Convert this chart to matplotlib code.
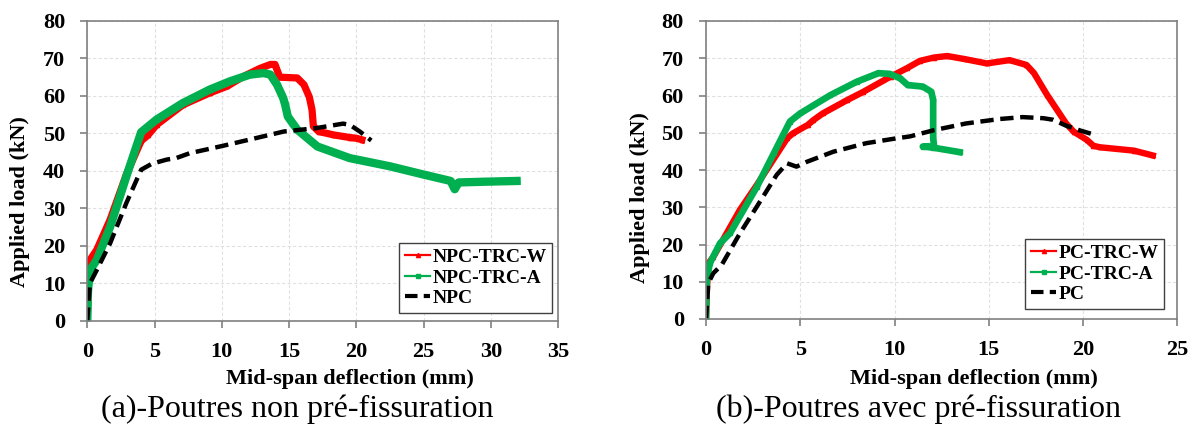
import matplotlib
matplotlib.use("Agg")
import matplotlib.pyplot as plt

# (a) beams without pre-cracking
npc_w_x = [0, 0.05, 0.2, 0.7, 1.7, 2.9, 4.0, 4.5, 5.15, 7.1, 9.1, 10.4, 11.6, 12.8, 13.6, 13.95,
           14.3, 15.6, 16.1, 16.5, 16.7, 16.8, 17.2, 18.3, 19.5, 20.0, 20.4]
npc_w_y = [0, 8, 16.2, 18.9, 27, 39, 48, 49.5, 52.3, 57.6, 60.8, 62.6, 65.2, 67.3, 68.4, 68.4,
           65.0, 64.8, 63.0, 59.7, 56.3, 51.9, 50.5, 49.6, 48.9, 48.7, 48.3]

npc_a_x = [0, 0.05, 0.2, 0.7, 1.7, 2.9, 4.0, 5.15, 7.1, 9.1, 10.6, 12.1, 13.1, 13.6, 14.1, 14.55,
           14.7, 14.9, 15.6, 17.1, 19.5, 22.5, 25.0, 27.0, 27.3, 27.6, 29.5, 31.9]
npc_a_y = [0, 8, 13.5, 16.2, 25.1, 38.5, 50.3, 53.7, 58.1, 61.7, 63.9, 65.7, 66.1, 65.7, 63.0, 59.5,
           57.7, 54.5, 51.0, 46.5, 43.4, 41.2, 39.0, 37.3, 35.1, 36.9, 37.1, 37.3]

npc_x = [0, 0.1, 0.2, 0.7, 1.7, 2.9, 4.0, 4.8, 5.9, 6.6, 7.6, 10.1, 12.6, 14.6, 17.0, 19.0, 19.5,
         20.25, 21.1]
npc_y = [0, 5, 10, 13.5, 20.7, 31.4, 40.3, 41.9, 43.0, 43.4, 44.7, 46.7, 48.8, 50.5, 51.4, 52.6,
         52.3, 50.5, 48.1]

# (b) beams with pre-cracking
pc_w_x = [0, 0.05, 0.12, 0.39, 1.8, 2.7, 4.3, 4.6, 5.4, 5.7, 6.2, 7.5, 8.35, 9.8, 10.65, 11.35,
          12.1, 12.8, 13.8, 14.9, 16.1, 17.0, 17.4, 18.1, 19.1, 19.5, 20.2, 20.55, 20.9, 22.7, 23.7]
pc_w_y = [0, 8, 14.9, 16.7, 29.3, 36.0, 48.5, 49.8, 52.1, 53.4, 55.2, 58.8, 61.0, 65.1, 67.3, 69.3,
          70.2, 70.6, 69.7, 68.6, 69.5, 68.2, 66.0, 60.1, 52.5, 50.3, 48.1, 46.5, 46.1, 45.2, 43.9]

pc_a_x = [0, 0.04, 0.2, 0.74, 1.27, 2.7, 3.6, 4.45, 5.0, 6.6, 8.0, 9.15, 9.75, 10.3, 10.7, 11.5,
          11.95, 12.05, 12.05, 12.1, 11.5, 12.05, 13.45]
pc_a_y = [0, 10.5, 14.9, 20.3, 23.0, 35.5, 44.5, 53.0, 55.2, 60.1, 63.7, 66.0, 65.8, 64.6, 62.8,
          62.4, 61.0, 58.8, 48.5, 46.3, 46.3, 46.0, 44.8]

pc_x = [0, 0.12, 0.39, 0.83, 1.8, 2.7, 3.75, 4.3, 4.8, 5.35, 6.75, 8.5, 10.1, 10.8, 12.1, 13.8,
        15.6, 16.8, 17.9, 18.4, 19.1, 19.85, 20.45]
pc_y = [0, 9.6, 12.3, 14.5, 23.0, 30.2, 38.7, 41.8, 40.9, 42.2, 44.9, 47.2, 48.5, 49.0, 50.7, 52.5,
        53.7, 54.2, 53.9, 53.5, 51.9, 50.6, 49.7]

red = '#ff0000'
green = '#00b050'
serif = 'Liberation Serif'

W, H = 1197, 425
fig = plt.figure(figsize=(W / 100, H / 100), dpi=100)
ax1 = fig.add_axes([87.3 / W, (H - 320.7) / H, 471.0 / W, 299.7 / H])
ax2 = fig.add_axes([706.0 / W, (H - 319.0) / H, 471.3 / W, 298.0 / H])

panels = [
    (ax1, npc_w_x, npc_w_y, npc_a_x, npc_a_y, npc_x, npc_y,
     ['NPC-TRC-W', 'NPC-TRC-A', 'NPC'], 35, 5.2, 6.0, (0.987, 0.026)),
    (ax2, pc_w_x, pc_w_y, pc_a_x, pc_a_y, pc_x, pc_y,
     ['PC-TRC-W', 'PC-TRC-A', 'PC'], 25, 4.6, 4.8, (0.972, 0.034)),
]

for ax, wx, wy, ax_, ay, cx, cy, names, xmax, lw_r, lw_g, anchor in panels:
    ax.plot(wx, wy, color=red, lw=lw_r, marker='^', ms=3, label=names[0], solid_joinstyle='round')
    ax.plot(ax_, ay, color=green, lw=lw_g, marker='s', ms=3, label=names[1], solid_joinstyle='round')
    ax.plot(cx, cy, color='black', lw=3.2, dashes=(3, 1.5), label=names[2])
    ax.set_xlim(0, xmax)
    ax.set_ylim(0, 80)
    ax.set_xticks(range(0, xmax + 1, 5))
    ax.set_yticks(range(0, 81, 10))
    ax.grid(True, color='#e0e0e0', ls=(0, (3, 2)), lw=0.8)
    ax.set_axisbelow(True)
    for s in ax.spines.values():
        s.set_color('#808080')
        s.set_linewidth(1.2)
    ax.tick_params(direction='out', length=5, color='#808080', width=1.2)
    ax.tick_params(axis='x', pad=10)
    ax.tick_params(axis='y', pad=11)
    for lab in ax.get_xticklabels() + ax.get_yticklabels():
        lab.set_fontfamily(serif)
        lab.set_fontweight('bold')
        lab.set_fontsize(16)
    leg = ax.legend(loc='lower right', bbox_to_anchor=anchor, borderaxespad=0,
                    prop={'family': serif, 'weight': 'bold', 'size': 14},
                    fancybox=False, edgecolor='#404040', framealpha=1,
                    handlelength=1.3, handletextpad=0.1, labelspacing=0.15,
                    borderpad=0.3)
    leg.get_frame().set_linewidth(1.0)
    for h, w in zip(leg.get_lines(), [1.6, 1.6, 3]):
        h.set_linewidth(w)

fig.text(350 / W, 1 - 379 / H, 'Mid-span deflection (mm)', ha='center', va='center',
         family=serif, weight='bold', fontsize=16)
fig.text(974 / W, 1 - 379 / H, 'Mid-span deflection (mm)', ha='center', va='center',
         family=serif, weight='bold', fontsize=16)
fig.text(20 / W, 1 - 202 / H, 'Applied load (kN)', ha='center', va='center', rotation=90,
         family=serif, weight='bold', fontsize=16)
fig.text(640 / W, 1 - 198 / H, 'Applied load (kN)', ha='center', va='center', rotation=90,
         family=serif, weight='bold', fontsize=16)
fig.text(297 / W, 1 - 409 / H, '(a)-Poutres non pré-fissuration', ha='center', va='center',
         family=serif, fontsize=23)
fig.text(919 / W, 1 - 409 / H, '(b)-Poutres avec pré-fissuration', ha='center', va='center',
         family=serif, fontsize=23)

fig.savefig('out.png', dpi=100)
